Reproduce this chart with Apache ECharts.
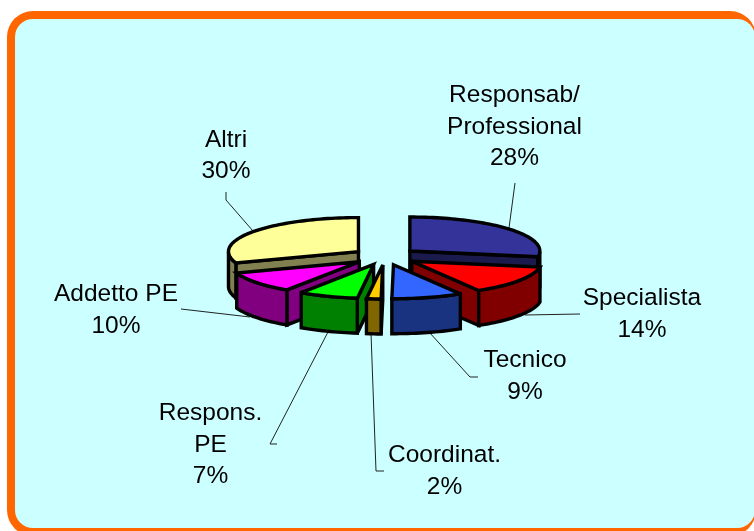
<!DOCTYPE html>
<html><head><meta charset="utf-8">
<style>html,body{margin:0;padding:0;background:#fff}#c{width:754px;height:531px}</style>
<script src="https://cdn.jsdelivr.net/npm/echarts@6/dist/echarts.min.js"></script>
</head><body><div id="c"></div>
<script>
// Data
const categories = ['Responsab/\nProfessional','Specialista','Tecnico','Coordinat.','Respons.\nPE','Addetto PE','Altri'];
const percents = [27.7,13.7,8.8,1.8,7.4,10.2,30.4]; // labels show them rounded
const percentLabels = ['28%','14%','9%','2%','7%','10%','30%'];
// Styling
const topColors  = ['#333399','#FF0000','#3366FF','#FFCC00','#00FF00','#FF00FF','#FFFF99'];
const sideColors = ['#1A1A4D','#800000','#1A3380','#806600','#008000','#800080','#808050'];
// Layout (label centres + leader lines) – not chart values
const labelAnchors = [[514.5,127],[642,314],[525,376],[444.5,471],[210.5,445],[116,310],[226,155.5]];
const leaders = [
 [[515,183],[509,228]],
 [[580,314],[525,315]],
 [[478,377],[470,377],[429,332]],
 [[384,471],[376,471],[371,333]],
 [[277,444],[270,444],[328,332]],
 [[181,309],[250,317]],
 [[226,192],[226,200],[253,231]]
];
const EXPLODE = 0.25, DEPTH = 35, STROKE = 3.4;
const CX = 385, CY = 256.5, RX = 130, RY = 34;

const total = percents.reduce((a,b)=>a+b,0);
const starts = []; percents.reduce((acc,v,i)=>{starts[i]=acc; return acc+v;},0);
const rad = p => p/total*2*Math.PI;

function renderItem(params, api){
  const idx = api.value(0), v = api.value(1), s = api.value(2);
  const a0 = rad(s), a1 = rad(s+v), mid=(a0+a1)/2;
  const ox = EXPLODE*Math.sin(mid), oy = EXPLODE*Math.cos(mid);
  const pt = (a,r)=>api.coord([ox+r*Math.sin(a), oy+r*Math.cos(a)]);
  const down = p=>[p[0],p[1]+DEPTH];
  const apex = pt(0,0);
  const arc = [];
  const n = Math.max(4,Math.round((a1-a0)/0.03));
  for(let i=0;i<=n;i++) arc.push(pt(a0+(a1-a0)*i/n,1));
  const sideStyle={fill:sideColors[idx],stroke:'#000',lineWidth:STROKE,lineJoin:'miter',miterLimit:2};
  const children=[];
  const poly=(pts,style)=>({type:'polygon',shape:{points:pts},style});
  // radial walls that face the viewer
  if(Math.sin(a0)<0) children.push(poly([apex,arc[0],down(arc[0]),down(apex)],sideStyle));
  if(Math.sin(a1)>0) children.push(poly([apex,arc[n],down(arc[n]),down(apex)],sideStyle));
  // outer rim: the part of the arc facing the viewer
  const front=[];
  for(let i=0;i<=n;i++){const a=a0+(a1-a0)*i/n; if(Math.cos(a)<=0.0001) front.push(arc[i]);}
  if(front.length>1) children.push(poly(front.concat(front.slice().reverse().map(down)),sideStyle));
  children.push(poly([apex].concat(arc),{fill:topColors[idx],stroke:'#000',lineWidth:STROKE,lineJoin:'miter',miterLimit:3}));
  return {type:'group',children};
}

// back-to-front painter order derived from slice mid angle
const order = percents.map((_,i)=>i).sort((a,b)=>{
  const m=i=>Math.cos(rad(starts[i]+percents[i]/2));
  return m(b)-m(a);
});
const sliceData = order.map(i=>({name:categories[i],value:[i,percents[i],starts[i]]}));

function labelItem(params, api){
  const i=api.value(0);
  const [x,y]=labelAnchors[i];
  return {type:'group',children:[
    {type:'polyline',shape:{points:leaders[i]},style:{fill:null,stroke:'#222',lineWidth:1}},
    {type:'text',style:{x,y,text:categories[i]+'\n'+percentLabels[i],align:'center',verticalAlign:'middle',
      font:'24.5px "Liberation Sans", Arial, sans-serif',lineHeight:31.5,fill:'#000'}}
  ]};
}

const chart = echarts.init(document.getElementById('c'),null,{renderer:'canvas'});
chart.setOption({
  animation:false,
  backgroundColor:'#fff',
  grid:{left:CX-RX,width:2*RX,top:CY-RY,height:2*RY,containLabel:false},
  xAxis:{type:'value',min:-1,max:1,show:false},
  yAxis:{type:'value',min:-1,max:1,show:false},
  graphic:[
    {type:'rect',z:-11,shape:{x:7,y:11,width:749,height:525,r:26},style:{fill:'#FF6600'},silent:true},
    {type:'rect',z:-10,shape:{x:15,y:19,width:740,height:509,r:18},style:{fill:'#CCFFFF'},silent:true}
  ],
  series:[
    {type:'custom',coordinateSystem:'cartesian2d',clip:false,renderItem:labelItem,silent:true,z:2,
      encode:{x:1,y:2},data:percents.map((v,i)=>({value:[i,0,0]}))},
    {type:'custom',coordinateSystem:'cartesian2d',clip:false,renderItem,silent:true,z:3,
      encode:{x:1,y:2},data:sliceData}
  ]
});
</script></body></html>
